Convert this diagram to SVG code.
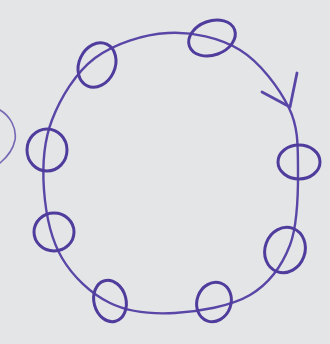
<svg xmlns="http://www.w3.org/2000/svg" width="330" height="344" viewBox="0 0 330 344">
  <style>
    .ink { fill: none; stroke: #5a46a6; stroke-linecap: round; stroke-linejoin: round; }
    .loop { stroke-width: 2.4; }
    .node { stroke-width: 3; stroke: #4f3c9c; }
  </style>
  <rect width="330" height="344" fill="#e3e5e7"/>
  <path class="ink" d="M0,110 C10,116 17,128 15,140 C13,150 6,158 0,163" stroke-width="1.6" opacity="0.8"/>
  <g id="connectors">
    <path class="ink loop" d="M168,33 C192.2,31.7 219.8,37.5 240,50 C260.2,62.5 279.3,88 289,108 C298.7,128 297.8,147.2 298,170 C298.2,192.8 298,224.2 290,245 C282,265.8 269.2,283.7 250,295 C230.8,306.3 198.3,311.7 175,313 C151.7,314.3 128.8,312.2 110,303 C91.2,293.8 73,276.8 62,258 C51,239.2 45.7,213 44,190 C42.3,167 43.5,142 52,120 C60.5,98 75.7,72.5 95,58 C114.3,43.5 143.8,34.3 168,33 Z"/>
    <path class="ink" stroke-width="2.8" d="M262,92 L290,107 L297,73"/>
  </g>
  <g id="n1"><ellipse class="ink node" cx="212" cy="38" rx="24" ry="17" transform="rotate(-20 212 38)"/></g>
  <g id="n2"><ellipse class="ink node" cx="97" cy="65" rx="18" ry="23" transform="rotate(25 97 65)"/></g>
  <g id="n3"><ellipse class="ink node" cx="47" cy="150" rx="20" ry="21"/></g>
  <g id="n4"><ellipse class="ink node" cx="54" cy="232" rx="20" ry="19"/></g>
  <g id="n5"><ellipse class="ink node" cx="110" cy="301" rx="16" ry="21" transform="rotate(-15 110 301)"/></g>
  <g id="n6"><ellipse class="ink node" cx="214" cy="302" rx="17" ry="20" transform="rotate(20 214 302)"/></g>
  <g id="n7"><ellipse class="ink node" cx="285" cy="250" rx="20" ry="23" transform="rotate(20 285 250)"/></g>
  <g id="n8"><ellipse class="ink node" cx="299" cy="162" rx="21" ry="17"/></g>
</svg>
